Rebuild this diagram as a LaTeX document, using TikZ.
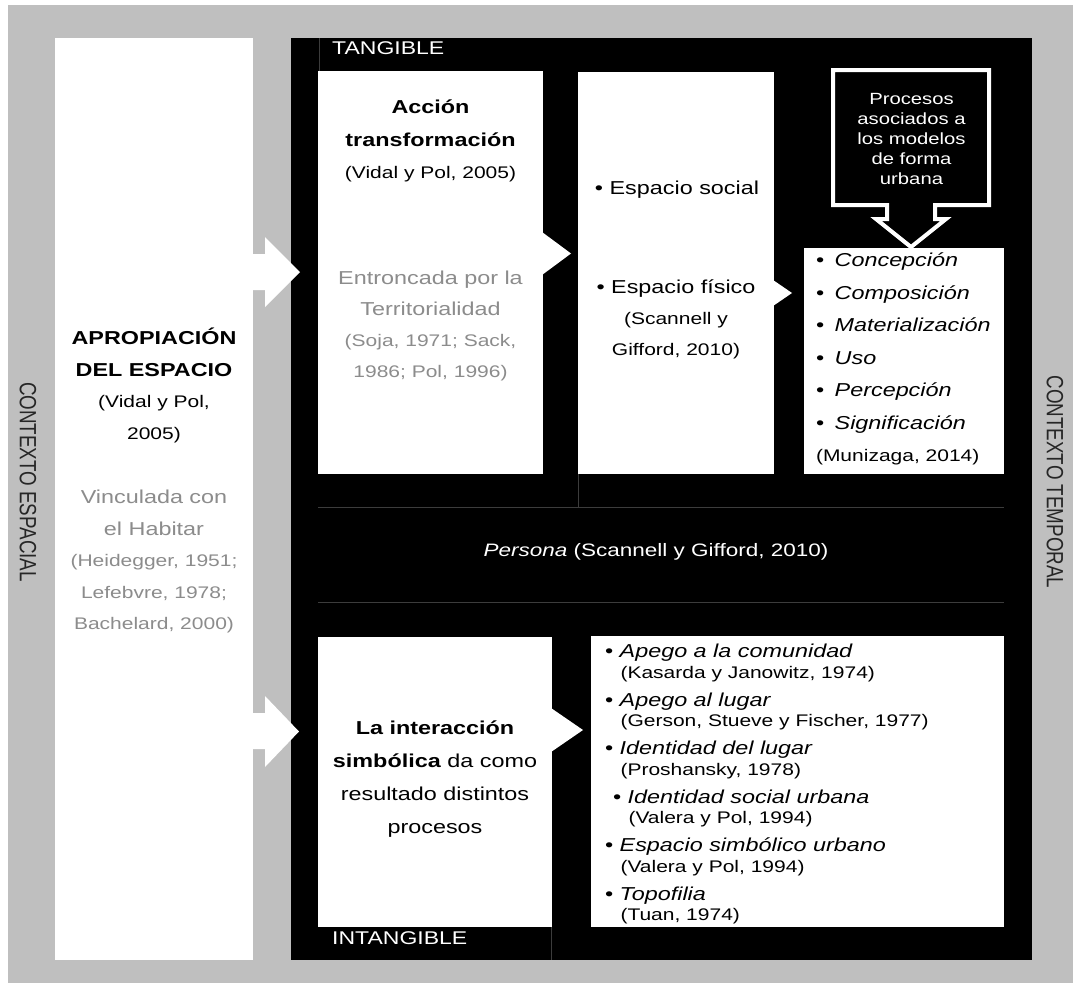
\documentclass[tikz,border=0pt]{standalone}
\usepackage{fontspec}
\setmainfont{Liberation Sans}[FakeStretch=1.25]
\newfontfamily\rotfont{Liberation Sans}[FakeStretch=0.8]
\definecolor{bggray}{HTML}{BFBFBF}
\definecolor{txtgray}{HTML}{8C8C8C}
\definecolor{linegray}{HTML}{3C3C3C}
\definecolor{labgray}{HTML}{262626}
\newcommand{\fbig}{\fontsize{18.7}{22}\selectfont}
\newcommand{\fsmall}{\fontsize{16.8}{20}\selectfont}
\begin{document}
\begin{tikzpicture}[x=1pt,y=-1pt,
  wbox/.style={fill=white, draw=none, inner sep=0pt, outer sep=0pt, anchor=north west},
  bbox/.style={fill=black, draw=none, inner sep=0pt, outer sep=0pt, anchor=north west},
  txt/.style={inner sep=0pt, outer sep=0pt, align=center, anchor=north},
  ltxt/.style={inner sep=0pt, outer sep=0pt, align=left, anchor=north west},
  outl/.style={draw=linegray, line width=0.7pt},
  rotlab/.style={rotate=-90, inner sep=0pt, text=labgray, font=\rotfont\fontsize{23.5}{24}\selectfont}]
\useasboundingbox (0,0) rectangle (1073,983);
\fill[bggray] (8,5) rectangle (1073,983);
% columns
\node[wbox, minimum width=198pt, minimum height=922pt] (col) at (55,38) {};
\node[bbox, minimum width=741pt, minimum height=922pt] (main) at (291,38) {};
% white boxes
\node[wbox, minimum width=225pt, minimum height=403pt] (b1) at (318,71) {};
\node[wbox, minimum width=196pt, minimum height=402pt] (b2) at (578,72) {};
\node[wbox, minimum width=200pt, minimum height=226pt] (b3) at (804,248) {};
\node[wbox, minimum width=234pt, minimum height=290pt] (c1) at (318,637) {};
\node[wbox, minimum width=413pt, minimum height=291pt] (c2) at (591,636) {};
% chevrons
\fill[white] (542,232) -- (571,253.5) -- (542,275) -- cycle;
\fill[white] (773,280) -- (792,293) -- (773,306) -- cycle;
\fill[white] (551,708) -- (583,730) -- (551,752) -- cycle;
% left block arrows
\fill[white] (252,254) -- (265,254) -- (265,237) -- (300,272) -- (265,307) -- (265,290) -- (252,290) -- cycle;
\fill[white] (252,713) -- (265,713) -- (265,696) -- (299,731.5) -- (265,767) -- (265,749) -- (252,749) -- cycle;
% faint outlines
\draw[outl] (319,38) -- (319,71);
\draw[outl] (318,507) -- (1004,507);
\draw[outl] (318,602) -- (1004,602);
\draw[outl] (578,474) -- (578,507);
\draw[outl] (551.5,927) -- (551.5,960);
% callout
\draw[white, line width=4pt, fill=black, line join=miter]
  (833,70) -- (989,70) -- (989,205) -- (935,205) -- (935,219) -- (946,219)
  -- (911,247) -- (876,219) -- (887,219) -- (887,205) -- (833,205) -- cycle;
\node[txt, text=white, font=\fontsize{16.2}{20}\selectfont] (call) at (911.5,90.8)
  {\strut Procesos\\asociados a\\los modelos\\de forma\\urbana};
% labels
\node[inner sep=0pt, anchor=base west, text=white, font=\fontsize{18.4}{22}\selectfont] (tang) at (332,54.7) {TANGIBLE};
\node[inner sep=0pt, anchor=base west, text=white, font=\fontsize{18.4}{22}\selectfont] (intang) at (332,944.7) {INTANGIBLE};
\node[rotlab] (ce) at (28,482) {CONTEXTO ESPACIAL};
\node[rotlab] (ct) at (1055,482) {CONTEXTO TEMPORAL};
% left column text
\node[txt, font=\fontsize{18.7}{31.5}\selectfont] (colA) at (154,322.6)
  {\strut\textbf{APROPIACIÓN}\\\textbf{DEL ESPACIO}\\{\fsmall (Vidal y Pol,}\\{\fsmall 2005)}};
\node[txt, text=txtgray, font=\fontsize{18.7}{31.5}\selectfont] (colB) at (154,481.6)
  {\strut Vinculada con\\el Habitar\\{\fsmall (Heidegger, 1951;}\\{\fsmall Lefebvre, 1978;}\\{\fsmall Bachelard, 2000)}};
% box 1
\node[txt, font=\fontsize{18.7}{32.5}\selectfont] (b1t) at (430.5,91)
  {\strut\textbf{Acción}\\\textbf{transformación}\\{\fsmall (Vidal y Pol, 2005)}};
\node[txt, text=txtgray, font=\fontsize{18.7}{31}\selectfont] (b1g) at (430.5,263)
  {\strut Entroncada por la\\Territorialidad\\{\fsmall (Soja, 1971; Sack,}\\{\fsmall 1986; Pol, 1996)}};
% box 2
\node[inner sep=0pt, anchor=base, font=\fontsize{18.7}{22}\selectfont] (b2a) at (677,194.7) {• Espacio social};
\node[txt, font=\fontsize{18.7}{31}\selectfont] (b2b) at (676,272)
  {\strut• Espacio físico\\{\fsmall (Scannell y}\\{\fsmall Gifford, 2010)}};
% box 3
\node[ltxt, font=\fontsize{18.7}{32.5}\selectfont] (b3t) at (816,244)
  {\strut•\hspace*{10.5pt}\textit{Concepción}\\
   •\hspace*{10.5pt}\textit{Composición}\\
   •\hspace*{10.5pt}\textit{Materialización}\\
   •\hspace*{10.5pt}\textit{Uso}\\
   •\hspace*{10.5pt}\textit{Percepción}\\
   •\hspace*{10.5pt}\textit{Significación}\\
   {\fsmall (Munizaga, 2014)}};
% persona
\node[inner sep=0pt, anchor=base, text=white, font=\fontsize{18}{22}\selectfont] (pers) at (656,556.5)
  {\textit{Persona} (Scannell y Gifford, 2010)};
% bottom box 1
\node[txt, font=\fontsize{18.7}{33}\selectfont] (c1t) at (435,711)
  {\strut\textbf{La interacción}\\\textbf{simbólica} da como\\resultado distintos\\procesos};
% bottom list
\node[ltxt, font=\fontsize{16.8}{20.5}\selectfont] (c2t) at (605,643.6)
  {\strut{\fbig • \textit{Apego a la comunidad}}\\
   \hspace*{15.5pt}(Kasarda y Janowitz, 1974)\\[7.5pt]
   {\fbig • \textit{Apego al lugar}}\\
   \hspace*{15.5pt}(Gerson, Stueve y Fischer, 1977)\\[7.5pt]
   {\fbig • \textit{Identidad del lugar}}\\
   \hspace*{15.5pt}(Proshansky, 1978)\\[7.5pt]
   \hspace*{8pt}{\fbig • \textit{Identidad social urbana}}\\
   \hspace*{23.5pt}(Valera y Pol, 1994)\\[7.5pt]
   {\fbig • \textit{Espacio simbólico urbano}}\\
   \hspace*{15.5pt}(Valera y Pol, 1994)\\[7.5pt]
   {\fbig • \textit{Topofilia}}\\
   \hspace*{15.5pt}(Tuan, 1974)};
\end{tikzpicture}
\end{document}
